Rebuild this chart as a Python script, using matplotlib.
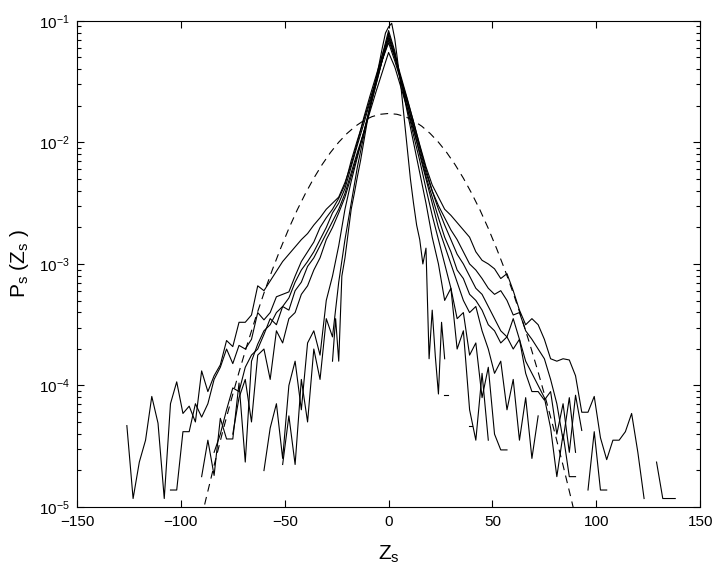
import numpy as np
import matplotlib.pyplot as plt
from matplotlib.ticker import LogLocator, NullFormatter

plt.rcParams['font.family'] = ['Liberation Sans', 'DejaVu Sans']
plt.rcParams['mathtext.fontset'] = 'custom'
plt.rcParams['mathtext.rm'] = 'Liberation Sans'
plt.rcParams['mathtext.it'] = 'Liberation Sans'

nan = np.nan
x1 = np.arange(-126, 139, 3)
logp1 = [-4.33, -4.93, -4.63, -4.45, -4.09, -4.31, -4.93, -4.15, -3.97, -4.23,
         -4.17, -4.30, -3.88, -4.05, -3.92, -3.83, -3.63, -3.68, -3.48, -3.48,
         -3.42, -3.18, -3.22, -3.14, -3.06, -2.98, -2.92, -2.86, -2.80, -2.75,
         -2.68, -2.62, -2.55, -2.50, -2.45, -2.33, -2.18, -2.00, -1.80, -1.62,
         -1.45, -1.28, -1.12, -1.30, -1.48, -1.65, -1.83, -2.02, -2.20, -2.35,
         -2.45, -2.55, -2.60, -2.66, -2.72, -2.78, -2.90, -2.97, -3.00, -3.04,
         -3.12, -3.08, -3.22, -3.38, -3.50, -3.45, -3.50, -3.62, -3.78, -3.80,
         -3.78, -3.79, -3.92, -4.22, -4.22, -4.09, -4.43, -4.61, -4.45, -4.45,
         -4.38, -4.23, -4.55, -4.93, nan, -4.63, -4.93, -4.93, -4.93]

x2 = np.arange(-105, 106, 3)
logp2 = [-4.86, -4.86, -4.38, -4.38, -4.15, -4.26, -4.15, -3.95, -3.85, -3.70,
         -3.82, -3.67, -3.70, -3.62, -3.40, -3.46, -3.40, -3.27, -3.25, -3.23,
         -3.10, -2.98, -2.90, -2.82, -2.70, -2.62, -2.55, -2.46, -2.35, -2.15,
         -1.98, -1.82, -1.65, -1.48, -1.32, -1.18, -1.33, -1.50, -1.68, -1.86,
         -2.05, -2.25, -2.40, -2.52, -2.62, -2.72, -2.80, -2.90, -3.00, -3.05,
         -3.12, -3.20, -3.25, -3.22, -3.30, -3.42, -3.40, -3.55, -3.62, -3.70,
         -3.78, -3.95, -4.15, -4.45, -4.10, -4.55, nan, -4.86, -4.38, -4.86,
         -4.86]

x3 = np.arange(-90, 94, 3)
logp3 = [-4.75, -4.45, -4.74, -4.27, -4.44, -4.44, -3.98, -4.63, -3.80, -3.66,
         -3.55, -3.50, -3.40, -3.35, -3.28, -3.15, -3.05, -2.98, -2.90, -2.80,
         -2.70, -2.58, -2.50, -2.38, -2.20, -2.02, -1.85, -1.67, -1.50, -1.32,
         -1.14, -1.28, -1.46, -1.64, -1.83, -2.03, -2.22, -2.40, -2.55, -2.68,
         -2.80, -2.92, -3.00, -3.10, -3.20, -3.25, -3.35, -3.45, -3.55, -3.60,
         -3.70, -3.62, -3.90, -4.05, -4.05, -4.12, -4.05, -4.40, -4.15, -4.55,
         -4.08, -4.37]

x4 = np.arange(-84, 91, 3)
logp4 = [-4.55, -4.40, -4.20, -4.02, -4.05, -3.85, -3.75, -3.70, -3.58, -3.45,
         -3.50, -3.35, -3.38, -3.22, -3.15, -3.02, -2.95, -2.85, -2.75, -2.65,
         -2.55, -2.42, -2.25, -2.08, -1.92, -1.75, -1.58, -1.42, -1.26, -1.38,
         -1.55, -1.72, -1.90, -2.08, -2.28, -2.45, -2.62, -2.78, -2.90, -3.05,
         -3.12, -3.25, -3.30, -3.38, -3.50, -3.55, -3.65, -3.60, -3.45, -3.62,
         -3.80, -3.90, -4.00, -4.10, -4.35, -4.75, -4.40, -4.75, -4.75]

x5 = np.arange(-75, 73, 3)
logp5 = [-4.40, -4.10, -3.95, -4.30, -3.75, -3.70, -3.95, -3.55, -3.65, -3.45,
         -3.40, -3.25, -3.18, -3.05, -2.95, -2.80, -2.70, -2.58, -2.45, -2.28,
         -2.10, -1.92, -1.72, -1.52, -1.32, -1.16, -1.30, -1.48, -1.68, -1.88,
         -2.10, -2.30, -2.50, -2.70, -2.85, -3.00, -3.15, -3.30, -3.40, -3.35,
         -3.55, -3.70, -3.90, -3.80, -4.20, -3.95, -4.45, -4.10, -4.60, -4.25]

x6 = np.arange(-60, 58, 3)
logp6 = [-4.70, -4.35, -4.15, -4.60, -4.00, -3.80, -4.20, -3.65, -3.55, -3.75,
         -3.30, -3.10, -2.85, -2.55, -2.32, -2.12, -1.92, -1.72, -1.52, -1.32,
         -1.10, -1.27, -1.50, -1.72, -1.94, -2.15, -2.38, -2.60, -2.80, -3.00,
         -3.20, -3.45, -3.40, -3.75, -3.65, -4.10, -3.85, -4.40, -4.53, -4.53]

x7 = np.arange(-51, 49, 3)
logp7 = [-4.65, -4.25, -4.65, -3.95, -4.30, -3.70, -3.95, -3.45, -3.60, -3.15,
         -2.80, -2.50, -2.20, -1.95, -1.70, -1.48, -1.28, -1.08, -1.25, -1.50,
         -1.75, -2.00, -2.25, -2.50, -2.78, -3.00, -3.30, -3.20, -3.70, -3.55,
         -4.20, -4.45, -3.90, -4.45]

x8 = np.arange(-27, 28, 1.5)
logp8 = [-3.80, -3.45, -3.80, -3.10, -2.95, -2.75, -2.55, -2.42, -2.28, -2.15,
         -2.00, -1.85, -1.72, -1.60, -1.48, -1.35, -1.22, -1.10, -1.05, -1.02,
         -1.15, -1.35, -1.55, -1.80, -2.05, -2.30, -2.50, -2.68, -2.80, -3.00,
         -2.87, -3.78, -3.38, -3.76, -4.07, -3.48, -3.78]

# isolated bins
frag_x = [[26.6, 28.7], [38.7, 40.3]]
frag_logp = [[-4.08, -4.08], [-4.33, -4.33]]

# gaussian reference (dashed)
xg = [-90, -88, -84, -80, -76, -72, -68, -64, -60, -56, -52, -48, -44, -40,
      -36, -32, -28, -24, -20, -16, -12, -8, -4, 0, 4, 8, 12, 16, 20, 24, 28,
      32, 36, 40, 44, 48, 52, 56, 60, 64, 68, 72, 76, 80, 84, 88, 90]
pg = [8.2e-6, 1.15e-5, 2.20e-5, 4.09e-5, 7.37e-5, 1.29e-4, 2.19e-4, 3.61e-4,
      5.76e-4, 8.92e-4, 1.34e-3, 1.96e-3, 2.78e-3, 3.81e-3, 5.08e-3, 6.57e-3,
      8.25e-3, 1.004e-2, 1.185e-2, 1.358e-2, 1.510e-2, 1.629e-2, 1.704e-2,
      1.73e-2, 1.704e-2, 1.629e-2, 1.510e-2, 1.358e-2, 1.185e-2, 1.004e-2,
      8.25e-3, 6.57e-3, 5.08e-3, 3.81e-3, 2.78e-3, 1.96e-3, 1.34e-3, 8.92e-4,
      5.76e-4, 3.61e-4, 2.19e-4, 1.29e-4, 7.37e-5, 4.09e-5, 2.20e-5, 1.15e-5,
      8.2e-6]

fig = plt.figure(figsize=(7.13, 5.64), dpi=100)
ax = fig.add_axes([0.108, 0.101, 0.874, 0.862])

curves = [(x1, logp1), (x2, logp2), (x3, logp3), (x4, logp4),
          (x5, logp5), (x6, logp6), (x7, logp7), (x8, logp8)]
for xs, lp in curves:
    ax.plot(xs, 10 ** np.array(lp), color='black', lw=0.8)
for xs, lp in zip(frag_x, frag_logp):
    ax.plot(xs, 10 ** np.array(lp), color='black', lw=0.8)

ax.plot(xg, pg, color='black', lw=0.8, linestyle=(0, (7, 5)))

ax.set_yscale('log')
ax.set_xlim(-150, 150)
ax.set_ylim(1e-5, 1e-1)
ax.set_xticks([-150, -100, -50, 0, 50, 100, 150])
ax.yaxis.set_major_locator(LogLocator(base=10, numticks=10))
ax.yaxis.set_minor_locator(LogLocator(base=10, subs=np.arange(2, 10), numticks=10))
ax.yaxis.set_minor_formatter(NullFormatter())
ax.tick_params(which='both', direction='in', top=True, right=True,
               labelsize=11, width=0.8)
ax.tick_params(which='major', length=5)
ax.tick_params(which='minor', length=3)
ax.tick_params(axis='x', pad=6)
ax.tick_params(axis='y', pad=5)
for s in ax.spines.values():
    s.set_linewidth(0.8)

ax.set_xlabel(r'Z$_{\rm s}$', fontsize=15, labelpad=10)
ax.set_ylabel(r'P$_{\rm s}$ (Z$_{\rm s}$ )', fontsize=15, labelpad=6)

fig.savefig('out.png', dpi=100)
